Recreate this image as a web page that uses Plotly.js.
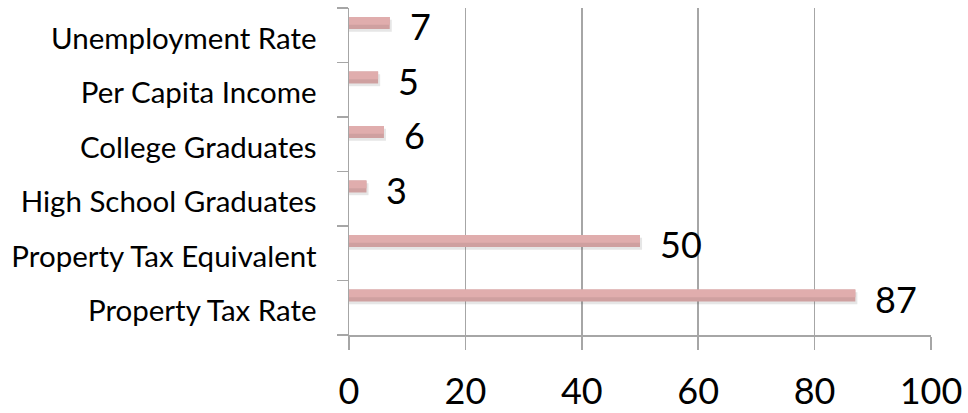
<!DOCTYPE html>
<html>
<head>
<meta charset="utf-8">
<script src="https://cdn.plot.ly/plotly-3.0.1.min.js"></script>
<style>
  html, body { margin: 0; padding: 0; background: #ffffff; }
  #chart { width: 968px; height: 413px; }
</style>
</head>
<body>
<div id="chart"></div>
<script>
// Indicators, listed bottom to top as they appear on the category axis
const categories = [
  "Property Tax Rate",
  "Property Tax Equivalent",
  "High School Graduates",
  "College Graduates",
  "Per Capita Income",
  "Unemployment Rate"
];
const values = [87, 50, 3, 6, 5, 7];
const xTicks = [0, 20, 40, 60, 80, 100];

const FONT = "Lato, 'Open Sans', sans-serif";
const GRID = "#a6a6a6";

// Thin bars sit in the upper part of each category band
const BAR_W = 0.22;
const BAR_OFF = 0.115;

// soft drop shadow under each bar
const shadow = {
  type: "bar", orientation: "h",
  y: categories, x: values.map(v => v + 0.35),
  width: BAR_W, offset: BAR_OFF - 0.05,
  marker: { color: "rgba(80,80,80,0.14)", line: { width: 0 } },
  hoverinfo: "skip"
};
// two tones give the bar a light top and a darker lower edge
const barLow = {
  type: "bar", orientation: "h",
  y: categories, x: values,
  width: BAR_W, offset: BAR_OFF,
  marker: { color: "#cfa0a0", line: { width: 0 } }
};
const barHigh = {
  type: "bar", orientation: "h",
  y: categories, x: values,
  width: BAR_W * 0.65, offset: BAR_OFF + BAR_W * 0.35,
  marker: { color: "#e0adad", line: { width: 0 } }
};

const annotations = categories.map((c, i) => ({
  x: values[i], y: c, xref: "x", yref: "y",
  text: String(values[i]),
  showarrow: false, xanchor: "left", yanchor: "middle",
  xshift: 18, yshift: 9,
  font: { family: FONT, size: 36, color: "#000000" }
}));

const layout = {
  width: 968, height: 413,
  margin: { l: 349, r: 37, t: 8, b: 78 },
  paper_bgcolor: "#ffffff", plot_bgcolor: "#ffffff",
  barmode: "overlay",
  showlegend: false,
  xaxis: {
    range: [0, 100],
    tickvals: xTicks,
    ticktext: xTicks.map(String),
    showgrid: true, gridcolor: GRID, gridwidth: 1.5,
    zeroline: false,
    showline: true, linecolor: GRID, linewidth: 1.5,
    ticks: "outside", ticklen: 13, tickwidth: 1.5, tickcolor: GRID,
    ticklabelstandoff: 11,
    tickfont: { family: FONT, size: 36, color: "#000000" },
    fixedrange: true
  },
  yaxis: {
    type: "category",
    categoryorder: "array", categoryarray: categories,
    range: [-0.5, categories.length - 0.5],
    tickson: "boundaries",
    showgrid: false, zeroline: false,
    showline: true, linecolor: GRID, linewidth: 1.5,
    ticks: "outside", ticklen: 11, tickwidth: 1.5, tickcolor: GRID,
    ticklabelstandoff: 25,
    ticklabelshift: 3,
    tickfont: { family: FONT, size: 29.5, color: "#000000" },
    fixedrange: true
  },
  annotations: annotations
};

Plotly.newPlot("chart", [shadow, barLow, barHigh], layout, { displayModeBar: false, staticPlot: true });
</script>
</body>
</html>
